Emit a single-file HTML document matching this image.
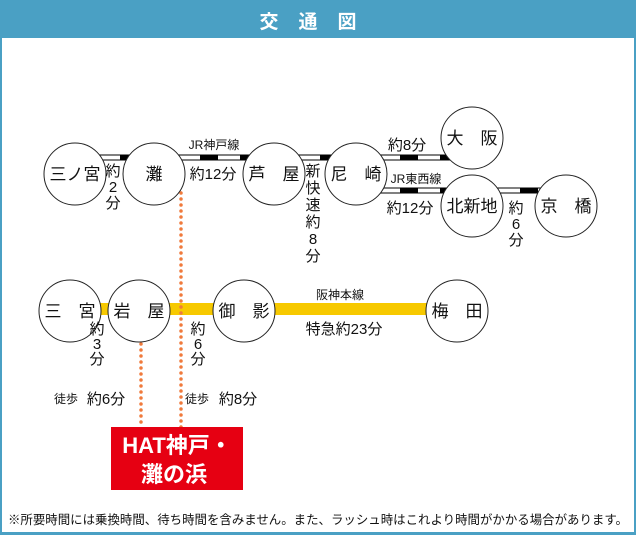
<!DOCTYPE html>
<html><head><meta charset="utf-8"><style>
html,body{margin:0;padding:0;background:#fff}
svg{display:block}
text{font-family:"Liberation Sans","Noto Sans CJK JP",sans-serif;fill:#111}
</style></head><body>
<svg width="636" height="535" viewBox="0 0 636 535" xmlns="http://www.w3.org/2000/svg">
<rect x="0" y="0" width="636" height="535" fill="#4aa0c4"/>
<rect x="2" y="38" width="632" height="494" fill="#fff"/>
<text x="318" y="28" text-anchor="middle" font-size="19" font-weight="bold" style="fill:#fff" letter-spacing="20">交通図</text>
<defs>
<pattern id="rail" x="0" y="0" width="40" height="6" patternUnits="userSpaceOnUse">
<rect width="40" height="6" fill="#fff"/><rect width="18" height="6" fill="#000"/>
</pattern>
</defs>
<rect x="100" y="155" width="250" height="5" fill="url(#rail)" stroke="#000" stroke-width="1"/>
<rect x="370" y="155" width="90" height="5" fill="url(#rail)" stroke="#000" stroke-width="1"/>
<rect x="380" y="188" width="80" height="5" fill="url(#rail)" stroke="#000" stroke-width="1"/>
<rect x="495" y="188" width="50" height="5" fill="url(#rail)" stroke="#000" stroke-width="1"/>
<rect x="80" y="303" width="380" height="12" fill="#f7c900"/>
<line x1="141" y1="344" x2="141" y2="428" stroke="#f07a3c" stroke-width="3.5" stroke-dasharray="0 6" stroke-linecap="round"/>
<line x1="181" y1="193" x2="181" y2="428" stroke="#f07a3c" stroke-width="3.5" stroke-dasharray="0 6" stroke-linecap="round"/>
<g fill="#fff" stroke="#222" stroke-width="1">
<circle cx="75" cy="174" r="31"/><circle cx="154" cy="174" r="31"/>
<circle cx="274" cy="174" r="31"/><circle cx="356" cy="174" r="31"/>
<circle cx="472" cy="138" r="31"/><circle cx="472" cy="206" r="31"/>
<circle cx="566" cy="206" r="31"/>
<circle cx="70" cy="311" r="31"/><circle cx="139" cy="311" r="31"/>
<circle cx="244" cy="311" r="31"/><circle cx="457" cy="311" r="31"/>
</g>
<g font-size="17" text-anchor="middle">
<text x="75" y="180">三ノ宮</text><text x="154" y="180">灘</text>
<text x="274" y="180">芦　屋</text><text x="356" y="180">尼　崎</text>
<text x="472" y="144">大　阪</text><text x="472" y="212">北新地</text>
<text x="566" y="212">京　橋</text>
<text x="70" y="317">三　宮</text><text x="139" y="317">岩　屋</text>
<text x="244" y="317">御　影</text><text x="457" y="317">梅　田</text>
</g>
<g font-size="15" text-anchor="middle">
<text x="213" y="179">約12分</text>
<text x="407" y="150">約8分</text>
<text x="410" y="213">約12分</text>
<text x="344" y="334">特急約23分</text>
<text x="113" y="176">約</text><text x="113" y="192">2</text><text x="113" y="208">分</text>
<text x="313" y="176">新</text><text x="313" y="193">快</text><text x="313" y="210">速</text><text x="313" y="227">約</text><text x="313" y="244">8</text><text x="313" y="261">分</text>
<text x="516" y="213">約</text><text x="516" y="229">6</text><text x="516" y="245">分</text>
<text x="97" y="334">約</text><text x="97" y="349">3</text><text x="97" y="364">分</text>
<text x="198" y="334">約</text><text x="198" y="349">6</text><text x="198" y="364">分</text>
<text x="106" y="404">約6分</text><text x="238" y="404">約8分</text>
</g>
<g font-size="12" text-anchor="middle">
<text x="214" y="149">JR神戸線</text>
<text x="416" y="183">JR東西線</text>
<text x="340" y="299">阪神本線</text>
<text x="66" y="403">徒歩</text><text x="197" y="403">徒歩</text>
</g>
<rect x="111" y="427" width="132" height="63" fill="#e60012"/>
<g font-size="22" font-weight="bold" text-anchor="middle">
<text x="177" y="453" style="fill:#fff">HAT神戸・</text>
<text x="174" y="482" style="fill:#fff">灘の浜</text>
</g>
<text x="318" y="524" font-size="12.6" text-anchor="middle" textLength="620" lengthAdjust="spacingAndGlyphs">※所要時間には乗換時間、待ち時間を含みません。また、ラッシュ時はこれより時間がかかる場合があります。</text>
</svg>
</body></html>
